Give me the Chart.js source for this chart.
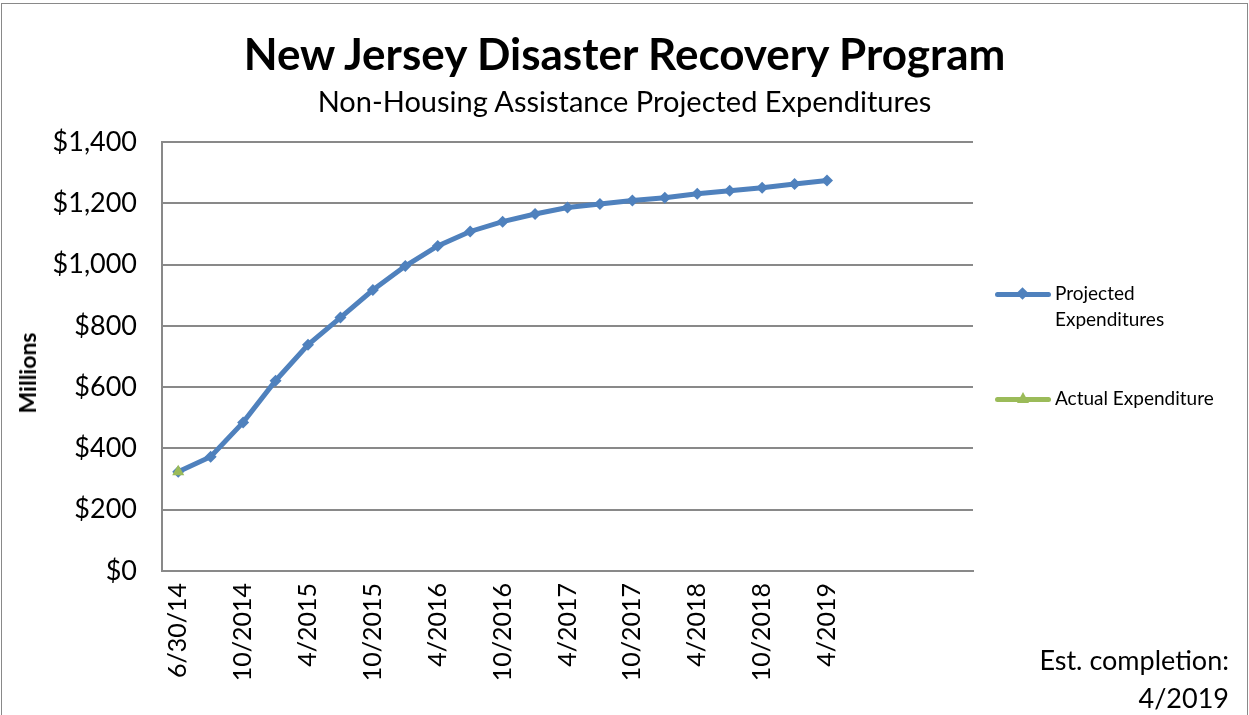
<!DOCTYPE html>
<html>
<head>
  <title>New Jersey Disaster Recovery Program</title>
  <script src="https://cdn.jsdelivr.net/npm/chart.js"></script>
  <style>
    html, body { margin: 0; padding: 0; background: #fff; }
    body { width: 1249px; height: 715px; overflow: hidden; position: relative; font-family: Lato, "Open Sans", sans-serif; color: #000; }
    #frame { position: absolute; left: 1px; top: 3px; width: 1245px; height: 720px; border: 1.5px solid #898989; }
    #chart { position: absolute; left: 0; top: 0; }
    .title { position: absolute; left: 0; width: 1249px; text-align: center; white-space: nowrap; }
    #t1 { top: 27px; font-size: 44px; font-weight: bold; }
    #t2 { top: 83px; font-size: 29px; }
    #ytitle { position: absolute; left: 27px; top: 373px; font-size: 23px; font-weight: bold; white-space: nowrap; transform: translate(-50%, -50%) rotate(-90deg); }
    .legend { position: absolute; left: 995px; font-size: 19px; line-height: 26px; }
    .swatch { position: absolute; left: 0; width: 56px; height: 5px; border-radius: 3px; }
    .legend .txt { position: absolute; left: 60px; white-space: nowrap; }
    .dia { position: absolute; left: 23px; top: -3px; width: 9px; height: 9px; transform: rotate(45deg); background: #4f81bd; }
    .tri { position: absolute; left: 22px; top: -5px; width: 0; height: 0; border-left: 6px solid transparent; border-right: 6px solid transparent; border-bottom: 11px solid #9bbb59; }
    #est { position: absolute; right: 20px; top: 641px; font-size: 27px; line-height: 38px; text-align: right; }
  </style>
</head>
<body>
  <div id="frame"></div>
  <canvas id="chart" width="1249" height="715"></canvas>
  <div class="title" id="t1">New Jersey Disaster Recovery Program</div>
  <div class="title" id="t2">Non-Housing Assistance Projected Expenditures</div>
  <div id="ytitle">Millions</div>

  <div class="legend" style="top:294px">
    <div class="swatch" style="background:#4f81bd; top:-2px"><div class="dia"></div></div>
    <div class="txt" style="top:-14px">Projected<br>Expenditures</div>
  </div>
  <div class="legend" style="top:399px">
    <div class="swatch" style="background:#9bbb59; top:-2px"><div class="tri"></div></div>
    <div class="txt" style="top:-14px">Actual Expenditure</div>
  </div>

  <div id="est">Est. completion:<br>4/2019</div>

  <script>
    // quarterly categories, only every other one gets a label in the original
    const categories = [
      "6/30/14", "7/2014", "10/2014", "1/2015", "4/2015", "7/2015", "10/2015",
      "1/2016", "4/2016", "7/2016", "10/2016", "1/2017", "4/2017", "7/2017",
      "10/2017", "1/2018", "4/2018", "7/2018", "10/2018", "1/2019", "4/2019",
      "", "", "", ""
    ];
    // millions of dollars
    const projected = [324, 373, 485, 621, 738, 827, 917, 995, 1061, 1108, 1140,
      1165, 1186, 1198, 1209, 1218, 1231, 1241, 1251, 1263, 1274];
    const actual = [324];
    const yTicks = [0, 200, 400, 600, 800, 1000, 1200, 1400];

    const gridColor = "#898989";

    new Chart(document.getElementById("chart"), {
      type: "line",
      data: {
        labels: categories,
        datasets: [
          {
            label: "Projected Expenditures",
            data: projected,
            order: 1,
            borderColor: "#4f81bd",
            backgroundColor: "#4f81bd",
            borderWidth: 5,
            pointStyle: "rectRot",
            pointRadius: 6,
            pointBorderWidth: 0,
            tension: 0,
            fill: false
          },
          {
            label: "Actual Expenditure",
            data: actual,
            order: 0,
            borderColor: "#9bbb59",
            backgroundColor: "#9bbb59",
            borderWidth: 5,
            pointStyle: "triangle",
            pointRadius: 7,
            pointBorderWidth: 0,
            fill: false
          }
        ]
      },
      options: {
        responsive: false,
        animation: false,
        devicePixelRatio: 1,
        layout: { padding: { left: 0, top: 142, right: 276, bottom: 0 } },
        plugins: {
          legend: { display: false },
          tooltip: { enabled: false }
        },
        scales: {
          x: {
            offset: true,
            grid: { display: false, drawTicks: false },
            border: { display: true, color: gridColor, width: 2 },
            ticks: {
              autoSkip: false,
              maxRotation: 90,
              minRotation: 90,
              padding: 12,
              color: "#000",
              font: { family: "Lato", size: 25 },
              callback: (v, i) => (i % 2 === 0 ? categories[i] : "")
            },
            afterFit: s => { s.height = 715 - 571; }
          },
          y: {
            min: 0,
            max: 1400,
            afterBuildTicks: s => { s.ticks = yTicks.map(v => ({ value: v })); },
            grid: { color: gridColor, lineWidth: 2, drawTicks: false },
            border: { display: true, color: gridColor, width: 2 },
            ticks: {
              padding: 25,
              color: "#000",
              font: { family: "Lato", size: 27 },
              callback: v => "$" + v.toLocaleString("en-US")
            },
            afterFit: s => { s.width = 162; }
          }
        }
      }
    });
  </script>
</body>
</html>
